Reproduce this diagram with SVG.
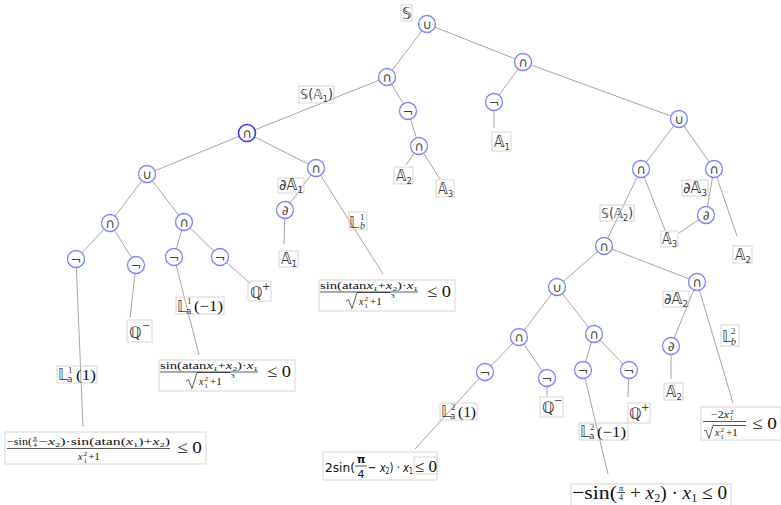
<svg xmlns="http://www.w3.org/2000/svg" width="781" height="505" viewBox="0 0 781 505">
<style>
.e line{stroke:#a6a6a6;stroke-width:1}
.nd circle{fill:#fff;stroke:#8282f6;stroke-width:1.3}
.nd.bold circle{stroke:#3c3cf0;stroke-width:1.6}
.nd text{font-family:"DejaVu Sans",sans-serif;font-size:13px;fill:#444;text-anchor:middle}
.lb rect{fill:none;stroke:#d6d6d6;stroke-width:1}
.ds{font-family:"DejaVu Sans",sans-serif;fill:#3a3a3a}
.ss{font-family:"Liberation Serif",serif;fill:#3a3a3a}
.fm{font-family:"Liberation Serif",serif;fill:#111}
.fs{font-family:"DejaVu Sans",sans-serif;fill:#111}
.it{font-style:italic}
.bar{stroke:#111;stroke-width:0.7;fill:none}
</style>
<rect width="781" height="505" fill="#fff"/>
<g id="connectors" class="e">
<line x1="427" y1="24" x2="387" y2="77"/>
<line x1="427" y1="24" x2="523" y2="62"/>
<line x1="387" y1="77" x2="247" y2="133"/>
<line x1="387" y1="77" x2="408" y2="111"/>
<line x1="408" y1="111" x2="419" y2="146"/>
<line x1="419" y1="146" x2="406" y2="165"/>
<line x1="419" y1="146" x2="440" y2="179"/>
<line x1="523" y1="62" x2="494" y2="102"/>
<line x1="523" y1="62" x2="679" y2="119"/>
<line x1="494" y1="102" x2="494" y2="128"/>
<line x1="679" y1="119" x2="641" y2="169"/>
<line x1="679" y1="119" x2="714" y2="169"/>
<line x1="714" y1="169" x2="706" y2="215"/>
<line x1="714" y1="169" x2="737" y2="236"/>
<line x1="706" y1="215" x2="679" y2="233"/>
<line x1="641" y1="169" x2="604" y2="246"/>
<line x1="641" y1="169" x2="665" y2="230"/>
<line x1="604" y1="246" x2="557" y2="287"/>
<line x1="604" y1="246" x2="697" y2="282"/>
<line x1="697" y1="282" x2="671" y2="346"/>
<line x1="697" y1="282" x2="733" y2="403"/>
<line x1="671" y1="346" x2="671" y2="379"/>
<line x1="557" y1="287" x2="519" y2="337"/>
<line x1="557" y1="287" x2="594" y2="334"/>
<line x1="519" y1="337" x2="485" y2="372"/>
<line x1="519" y1="337" x2="547" y2="378"/>
<line x1="547" y1="378" x2="547" y2="396"/>
<line x1="485" y1="372" x2="415" y2="449"/>
<line x1="594" y1="334" x2="583" y2="370"/>
<line x1="594" y1="334" x2="629" y2="370"/>
<line x1="629" y1="370" x2="628" y2="397"/>
<line x1="583" y1="370" x2="608" y2="474"/>
<line x1="247" y1="133" x2="147" y2="174"/>
<line x1="247" y1="133" x2="316" y2="168"/>
<line x1="316" y1="168" x2="285" y2="210"/>
<line x1="316" y1="168" x2="383" y2="274"/>
<line x1="285" y1="210" x2="284" y2="244"/>
<line x1="147" y1="174" x2="110" y2="223"/>
<line x1="147" y1="174" x2="184" y2="222"/>
<line x1="110" y1="223" x2="76" y2="259"/>
<line x1="110" y1="223" x2="136" y2="265"/>
<line x1="136" y1="265" x2="130" y2="318"/>
<line x1="76" y1="259" x2="83" y2="427"/>
<line x1="184" y1="222" x2="174" y2="257"/>
<line x1="184" y1="222" x2="220" y2="257"/>
<line x1="220" y1="257" x2="250" y2="283"/>
<line x1="174" y1="257" x2="199" y2="355"/>
</g>
<g id="edge-labels" class="lb">
<g id="l-S"><rect x="401" y="5" width="11" height="16"/><text class="ds" x="402" y="19" font-size="15">𝕊</text></g>
<g id="l-SA1"><rect x="299" y="86" width="35" height="17"/><text class="ds" x="300" y="99" font-size="14" textLength="33" lengthAdjust="spacingAndGlyphs">𝕊(𝔸<tspan font-size="9" dy="3">1</tspan><tspan dy="-3">)</tspan></text></g>
<g id="l-dA1"><rect x="278" y="178" width="26" height="15"/><text class="ds" x="279" y="190" font-size="15" textLength="24" lengthAdjust="spacingAndGlyphs">∂𝔸<tspan font-size="9" dy="3">1</tspan></text></g>
<g id="l-Lb1"><rect x="349" y="212" width="18" height="18"/><text class="ds" x="349" y="228" font-size="15">𝕃</text><text class="ss" x="360" y="220" font-size="9">1</text><text class="ss it" x="360" y="229" font-size="10">b</text></g>
<g id="l-La1m"><rect x="176" y="297" width="48" height="17"/><text class="ds" x="177" y="312" font-size="15">𝕃</text><text class="ss" x="187" y="304" font-size="9">1</text><text class="ds" x="186" y="313.5" font-size="9">a</text><text class="fm" x="194" y="311" font-size="15" fill="#3a3a3a" textLength="29" lengthAdjust="spacingAndGlyphs">(−1)</text></g>
<g id="l-La1p"><rect x="57" y="366" width="40" height="17"/><text class="ds" x="58" y="380" font-size="15">𝕃</text><text class="ss" x="68" y="373" font-size="9">1</text><text class="ds" x="67" y="382" font-size="9">a</text><text class="fm" x="76" y="380" font-size="15" fill="#3a3a3a" textLength="20" lengthAdjust="spacingAndGlyphs">(1)</text></g>
<g id="l-dA3"><rect x="682" y="180" width="26" height="16"/><text class="ds" x="683" y="193" font-size="15" textLength="24" lengthAdjust="spacingAndGlyphs">∂𝔸<tspan font-size="9" dy="3">3</tspan></text></g>
<g id="l-SA2"><rect x="600" y="205" width="34" height="16"/><text class="ds" x="601" y="218" font-size="14" textLength="32" lengthAdjust="spacingAndGlyphs">𝕊(𝔸<tspan font-size="9" dy="3">2</tspan><tspan dy="-3">)</tspan></text></g>
<g id="l-dA2"><rect x="663" y="291" width="26" height="16"/><text class="ds" x="664" y="304" font-size="15" textLength="24" lengthAdjust="spacingAndGlyphs">∂𝔸<tspan font-size="9" dy="3">2</tspan></text></g>
<g id="l-Lb2"><rect x="721" y="325" width="18" height="21"/><text class="ds" x="722" y="342" font-size="15">𝕃</text><text class="ss" x="731" y="334" font-size="9">2</text><text class="ss it" x="731" y="345" font-size="10">b</text></g>
<g id="l-La2p"><rect x="440" y="403" width="37" height="17"/><text class="ds" x="441" y="417" font-size="15">𝕃</text><text class="ss" x="451" y="410" font-size="9">2</text><text class="ds" x="450" y="419" font-size="9">a</text><text class="fm" x="458" y="417" font-size="15" fill="#3a3a3a" textLength="18" lengthAdjust="spacingAndGlyphs">(1)</text></g>
<g id="l-La2m"><rect x="579" y="423" width="49" height="17"/><text class="ds" x="580" y="437" font-size="15">𝕃</text><text class="ss" x="590" y="430" font-size="9">2</text><text class="ds" x="589" y="439" font-size="9">a</text><text class="fm" x="597" y="437" font-size="15" fill="#3a3a3a" textLength="29" lengthAdjust="spacingAndGlyphs">(−1)</text></g>
</g>
<g id="leaves" class="lb">
<g id="leaf-A1a"><rect x="492" y="132" width="19" height="19"/><text class="ds" x="494" y="147" font-size="15" textLength="16" lengthAdjust="spacingAndGlyphs">𝔸<tspan font-size="9" dy="3">1</tspan></text></g>
<g id="leaf-A2a"><rect x="394" y="167" width="19" height="17"/><text class="ds" x="396" y="181" font-size="15" textLength="16" lengthAdjust="spacingAndGlyphs">𝔸<tspan font-size="9" dy="3">2</tspan></text></g>
<g id="leaf-A3a"><rect x="436" y="180" width="18" height="17"/><text class="ds" x="438" y="194" font-size="15" textLength="15" lengthAdjust="spacingAndGlyphs">𝔸<tspan font-size="9" dy="3">3</tspan></text></g>
<g id="leaf-A1b"><rect x="279" y="251" width="19" height="16"/><text class="ds" x="281" y="264" font-size="15" textLength="16" lengthAdjust="spacingAndGlyphs">𝔸<tspan font-size="9" dy="3">1</tspan></text></g>
<g id="leaf-A3b"><rect x="661" y="231" width="17" height="16"/><text class="ds" x="662" y="244" font-size="15" textLength="15" lengthAdjust="spacingAndGlyphs">𝔸<tspan font-size="9" dy="3">3</tspan></text></g>
<g id="leaf-A2b"><rect x="733" y="246" width="19" height="17"/><text class="ds" x="735" y="260" font-size="15" textLength="16" lengthAdjust="spacingAndGlyphs">𝔸<tspan font-size="9" dy="3">2</tspan></text></g>
<g id="leaf-A2c"><rect x="664" y="383" width="19" height="17"/><text class="ds" x="666" y="397" font-size="15" textLength="16" lengthAdjust="spacingAndGlyphs">𝔸<tspan font-size="9" dy="3">2</tspan></text></g>
<g id="leaf-Qp1"><rect x="248" y="281" width="23" height="20"/><text class="ds" x="250" y="298" font-size="16">ℚ</text><text class="ds" x="262" y="290" font-size="10">+</text></g>
<g id="leaf-Qm1"><rect x="127" y="320" width="25" height="22"/><text class="ds" x="129" y="338" font-size="16">ℚ</text><text class="ds" x="142" y="329" font-size="10">−</text></g>
<g id="leaf-Qm2"><rect x="540" y="397" width="23" height="20"/><text class="ds" x="542" y="413" font-size="16">ℚ</text><text class="ds" x="554" y="404" font-size="10">−</text></g>
<g id="leaf-Qp2"><rect x="628" y="403" width="22" height="20"/><text class="ds" x="629" y="419" font-size="16">ℚ</text><text class="ds" x="641" y="411" font-size="10">+</text></g>

<g id="leaf-fA">
<rect x="319" y="280" width="136" height="31"/>
<text class="fm" x="320" y="289" font-size="11" textLength="98" lengthAdjust="spacingAndGlyphs">sin(atan<tspan class="it">x</tspan><tspan font-size="7" dy="2">1</tspan><tspan dy="-2">+</tspan><tspan class="it">x</tspan><tspan font-size="7" dy="2">2</tspan><tspan dy="-2">)·</tspan><tspan class="it">x</tspan><tspan font-size="7" dy="2">1</tspan></text>
<line class="bar" x1="320" y1="292" x2="418" y2="292"/>
<path class="bar" d="M346,301 L348.5,299.5 L352,308.5 L357,292.5 L390,292.5"/>
<text class="fm it" x="359" y="305" font-size="10">x</text><text class="fm" x="364.5" y="300.5" font-size="7">2</text><text class="fm" x="364.5" y="308" font-size="7">1</text><text class="fm" x="370" y="305" font-size="11">+1</text>
<text class="fm" x="391" y="298" font-size="7">3</text>
<text class="fm" x="427" y="297" font-size="17" textLength="24" lengthAdjust="spacingAndGlyphs">≤ 0</text>
</g>
<g id="leaf-fB" transform="translate(-160,80)">
<rect x="319" y="280" width="136" height="31"/>
<text class="fm" x="320" y="289" font-size="11" textLength="98" lengthAdjust="spacingAndGlyphs">sin(atan<tspan class="it">x</tspan><tspan font-size="7" dy="2">1</tspan><tspan dy="-2">+</tspan><tspan class="it">x</tspan><tspan font-size="7" dy="2">2</tspan><tspan dy="-2">)·</tspan><tspan class="it">x</tspan><tspan font-size="7" dy="2">1</tspan></text>
<line class="bar" x1="320" y1="292" x2="418" y2="292"/>
<path class="bar" d="M346,301 L348.5,299.5 L352,308.5 L357,292.5 L390,292.5"/>
<text class="fm it" x="359" y="305" font-size="10">x</text><text class="fm" x="364.5" y="300.5" font-size="7">2</text><text class="fm" x="364.5" y="308" font-size="7">1</text><text class="fm" x="370" y="305" font-size="11">+1</text>
<text class="fm" x="391" y="298" font-size="7">3</text>
<text class="fm" x="427" y="297" font-size="17" textLength="24" lengthAdjust="spacingAndGlyphs">≤ 0</text>
</g>
<g id="leaf-fC">
<rect x="5" y="432" width="201" height="32"/>
<text class="fm" x="7" y="445" font-size="10.5" textLength="25" lengthAdjust="spacingAndGlyphs">−sin(</text>
<text class="fm it" x="35" y="439.5" font-size="7" text-anchor="middle">π</text>
<line class="bar" x1="32.5" y1="441" x2="37.5" y2="441" stroke-width="0.5"/>
<text class="fm" x="35" y="446.5" font-size="6.5" text-anchor="middle">4</text>
<text class="fm" x="39" y="445" font-size="10.5" textLength="131" lengthAdjust="spacingAndGlyphs">−<tspan class="it">x</tspan><tspan font-size="7" dy="2">2</tspan><tspan dy="-2">)·sin(atan(</tspan><tspan class="it">x</tspan><tspan font-size="7" dy="2">1</tspan><tspan dy="-2">)+</tspan><tspan class="it">x</tspan><tspan font-size="7" dy="2">2</tspan><tspan dy="-2">)</tspan></text>
<line class="bar" x1="7" y1="448.5" x2="170" y2="448.5"/>
<text class="fm it" x="78" y="460" font-size="10">x</text><text class="fm" x="83.5" y="455.5" font-size="7">2</text><text class="fm" x="83.5" y="462.5" font-size="7">1</text><text class="fm" x="88.5" y="460" font-size="10.5">+1</text>
<text class="fm" x="177" y="453" font-size="17" textLength="25" lengthAdjust="spacingAndGlyphs">≤ 0</text>
</g>
<g id="leaf-fD">
<rect x="323" y="452" width="114" height="28"/>
<text class="fs" x="325" y="472" font-size="13" textLength="30" lengthAdjust="spacingAndGlyphs">2sin(</text>
<text class="fs" x="361" y="463" font-size="11" font-weight="bold" text-anchor="middle">π</text>
<line class="bar" x1="355" y1="466" x2="367" y2="466"/>
<text class="fs" x="361" y="478" font-size="11" text-anchor="middle">4</text>
<text class="fs" x="368" y="472" font-size="13" textLength="45" lengthAdjust="spacingAndGlyphs">− <tspan class="it">x</tspan><tspan font-size="8" dy="2">2</tspan><tspan dy="-2">) · </tspan><tspan class="it">x</tspan><tspan font-size="8" dy="2">1</tspan></text>
<rect x="414" y="457" width="23" height="17"/>
<text class="fm" x="415" y="472" font-size="16" textLength="22" lengthAdjust="spacingAndGlyphs">≤ 0</text>
</g>
<g id="leaf-fE">
<rect x="571" y="484" width="160" height="23"/>
<text class="fm" x="572" y="499" font-size="19" textLength="45" lengthAdjust="spacingAndGlyphs">−sin(</text>
<text class="fm it" x="621" y="490.5" font-size="9" text-anchor="middle">π</text>
<line class="bar" x1="617" y1="492.5" x2="625" y2="492.5" stroke-width="0.6"/>
<text class="fm" x="621" y="500" font-size="8" text-anchor="middle">4</text>
<text class="fm" x="630" y="499" font-size="19" textLength="97" lengthAdjust="spacingAndGlyphs">+ <tspan class="it">x</tspan><tspan font-size="12" dy="2.5">2</tspan><tspan dy="-2.5">) · </tspan><tspan class="it">x</tspan><tspan font-size="12" dy="2.5">1</tspan><tspan dy="-2.5"> ≤ 0</tspan></text>
</g>
<g id="leaf-fF">
<rect x="701" y="407" width="80" height="33"/>
<text class="fm" x="711" y="418" font-size="10" textLength="18" lengthAdjust="spacingAndGlyphs">−2<tspan class="it">x</tspan></text>
<text class="fm" x="730" y="413.5" font-size="7">2</text><text class="fm" x="730" y="420" font-size="6">1</text>
<line class="bar" x1="703" y1="421.5" x2="746" y2="421.5"/>
<path class="bar" d="M704,431 L706,430 L709,438.5 L713,425.5 L746,425.5"/>
<text class="fm it" x="715" y="436" font-size="10">x</text><text class="fm" x="720.5" y="431.5" font-size="7">2</text><text class="fm" x="720.5" y="438.5" font-size="6.5">1</text><text class="fm" x="726" y="436" font-size="11">+1</text>
<text class="fm" x="752" y="429" font-size="17" textLength="25" lengthAdjust="spacingAndGlyphs">≤ 0</text>
</g>
</g>
<g id="nodes">
<g id="n0" class="nd"><circle cx="427" cy="24" r="8.5"/><text x="427" y="28.5">∪</text></g>
<g id="n1" class="nd"><circle cx="387" cy="77" r="8.5"/><text x="387" y="81.5">∩</text></g>
<g id="n2" class="nd"><circle cx="523" cy="62" r="8.5"/><text x="523" y="66.5">∩</text></g>
<g id="n3" class="nd bold"><circle cx="247" cy="133" r="8.5"/><text x="247" y="137.5">∩</text></g>
<g id="n4" class="nd"><circle cx="408" cy="111" r="8.5"/><text x="408" y="116">¬</text></g>
<g id="n5" class="nd"><circle cx="419" cy="146" r="8.5"/><text x="419" y="150.5">∩</text></g>
<g id="n6" class="nd"><circle cx="494" cy="102" r="8.5"/><text x="494" y="107">¬</text></g>
<g id="n7" class="nd"><circle cx="679" cy="119" r="8.5"/><text x="679" y="123.5">∪</text></g>
<g id="n8" class="nd"><circle cx="147" cy="174" r="8.5"/><text x="147" y="178.5">∪</text></g>
<g id="n9" class="nd"><circle cx="316" cy="168" r="8.5"/><text x="316" y="172.5">∩</text></g>
<g id="n10" class="nd"><circle cx="110" cy="223" r="8.5"/><text x="110" y="227.5">∩</text></g>
<g id="n11" class="nd"><circle cx="184" cy="222" r="8.5"/><text x="184" y="226.5">∩</text></g>
<g id="n12" class="nd"><circle cx="76" cy="259" r="8.5"/><text x="76" y="264">¬</text></g>
<g id="n13" class="nd"><circle cx="136" cy="265" r="8.5"/><text x="136" y="270">¬</text></g>
<g id="n14" class="nd"><circle cx="174" cy="257" r="8.5"/><text x="174" y="262">¬</text></g>
<g id="n15" class="nd"><circle cx="220" cy="257" r="8.5"/><text x="220" y="262">¬</text></g>
<g id="n16" class="nd"><circle cx="285" cy="210" r="8.5"/><text x="285" y="215">∂</text></g>
<g id="n17" class="nd"><circle cx="641" cy="169" r="8.5"/><text x="641" y="173.5">∩</text></g>
<g id="n18" class="nd"><circle cx="714" cy="169" r="8.5"/><text x="714" y="173.5">∩</text></g>
<g id="n19" class="nd"><circle cx="706" cy="215" r="8.5"/><text x="706" y="220">∂</text></g>
<g id="n20" class="nd"><circle cx="604" cy="246" r="8.5"/><text x="604" y="250.5">∩</text></g>
<g id="n21" class="nd"><circle cx="557" cy="287" r="8.5"/><text x="557" y="291.5">∪</text></g>
<g id="n22" class="nd"><circle cx="697" cy="282" r="8.5"/><text x="697" y="286.5">∩</text></g>
<g id="n23" class="nd"><circle cx="671" cy="346" r="8.5"/><text x="671" y="351">∂</text></g>
<g id="n24" class="nd"><circle cx="519" cy="337" r="8.5"/><text x="519" y="341.5">∩</text></g>
<g id="n25" class="nd"><circle cx="594" cy="334" r="8.5"/><text x="594" y="338.5">∩</text></g>
<g id="n26" class="nd"><circle cx="485" cy="372" r="8.5"/><text x="485" y="377">¬</text></g>
<g id="n27" class="nd"><circle cx="547" cy="378" r="8.5"/><text x="547" y="383">¬</text></g>
<g id="n28" class="nd"><circle cx="583" cy="370" r="8.5"/><text x="583" y="375">¬</text></g>
<g id="n29" class="nd"><circle cx="629" cy="370" r="8.5"/><text x="629" y="375">¬</text></g>
</g>
</svg>
